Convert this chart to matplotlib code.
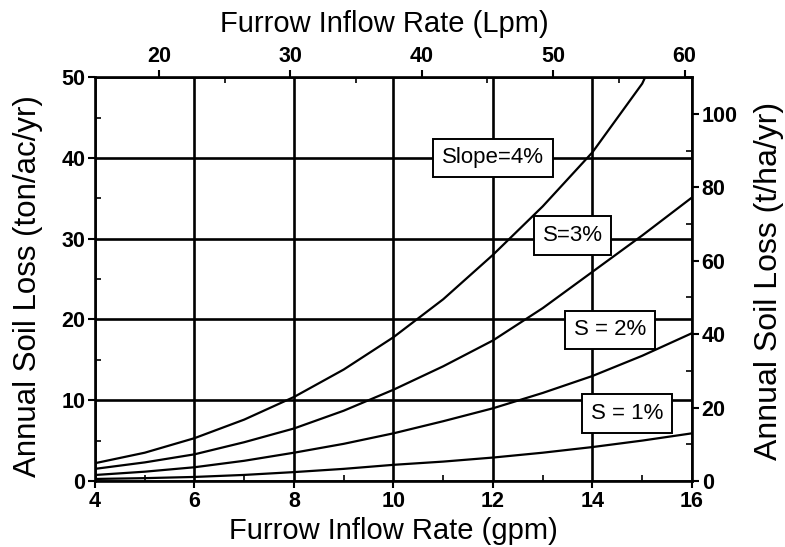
import matplotlib.pyplot as plt
from matplotlib.ticker import MultipleLocator

plt.rcParams["font.family"] = ["Liberation Sans", "DejaVu Sans"]

# Soil loss (ton/ac/yr) at each inflow rate (gpm)
flow_gpm = [4, 5, 6, 7, 8, 9, 10, 11, 12, 13, 14, 15, 15.06]
slope4 = [2.2, 3.5, 5.3, 7.6, 10.4, 13.8, 17.8, 22.5, 28.0, 34.0, 40.7, 49.2, 50.0]

flow_gpm_b = [4, 5, 6, 7, 8, 9, 10, 11, 12, 13, 14, 15, 16]
slope3 = [1.5, 2.3, 3.3, 4.8, 6.5, 8.7, 11.3, 14.2, 17.4, 21.4, 25.9, 30.4, 35.1]
slope2 = [0.74, 1.15, 1.7, 2.5, 3.5, 4.6, 5.9, 7.4, 9.0, 10.9, 13.0, 15.5, 18.3]
slope1 = [0.25, 0.35, 0.5, 0.75, 1.1, 1.5, 2.0, 2.4, 2.9, 3.5, 4.2, 5.0, 5.9]

labels = ["Slope=4%", "S=3%", "S = 2%", "S = 1%"]
label_x = [12.0, 13.6, 14.35, 14.7]
label_y = [40.0, 30.4, 18.7, 8.4]

GPM_TO_LPM = 3.785
TONAC_TO_THA = 2.2

fig = plt.figure(figsize=(7.85, 5.47), dpi=100)
ax = fig.add_axes([0.121, 0.1207, 0.7605, 0.7383])

for ys in [slope3, slope2, slope1]:
    ax.plot(flow_gpm_b, ys, color="black", lw=1.6)
ax.plot(flow_gpm, slope4, color="black", lw=1.6)

ax.set_xlim(4, 16)
ax.set_ylim(0, 50)
ax.xaxis.set_major_locator(MultipleLocator(2))
ax.xaxis.set_minor_locator(MultipleLocator(1))
ax.yaxis.set_major_locator(MultipleLocator(10))
ax.yaxis.set_minor_locator(MultipleLocator(5))
ax.grid(True, which="major", color="black", lw=1.9)
ax.tick_params(which="major", direction="out", length=5, width=1.5,
               labelsize=15.5, pad=2)
ax.tick_params(which="minor", direction="in", length=4, width=1.2)
for lbl in ax.get_xticklabels() + ax.get_yticklabels():
    lbl.set_fontweight("bold")
for s in ax.spines.values():
    s.set_linewidth(1.9)

ax.set_xlabel("Furrow Inflow Rate (gpm)", fontsize=21)
ax.set_ylabel("Annual Soil Loss (ton/ac/yr)", fontsize=22.5)
ax.xaxis.set_label_coords(0.5, -0.088)
ax.yaxis.set_label_coords(-0.087, 0.483)

for t, x, y in zip(labels, label_x, label_y):
    ax.text(x, y, t, ha="center", va="center", fontsize=16, zorder=5,
            bbox=dict(boxstyle="square,pad=0.4", fc="white", ec="black", lw=1.4))

top = ax.secondary_xaxis("top", functions=(lambda g: g * GPM_TO_LPM,
                                           lambda l: l / GPM_TO_LPM))
top.xaxis.set_major_locator(MultipleLocator(10))
top.xaxis.set_minor_locator(MultipleLocator(5))
top.tick_params(which="major", direction="out", length=5, width=1.5,
                labelsize=15.5, pad=2)
top.tick_params(which="minor", direction="in", length=4, width=1.2)
for lbl in top.get_xticklabels():
    lbl.set_fontweight("bold")

right = ax.secondary_yaxis("right", functions=(lambda v: v * TONAC_TO_THA,
                                               lambda v: v / TONAC_TO_THA))
right.yaxis.set_major_locator(MultipleLocator(20))
right.yaxis.set_minor_locator(MultipleLocator(10))
right.tick_params(which="major", direction="out", length=5, width=1.5,
                  labelsize=15.5, pad=2)
right.tick_params(which="minor", direction="in", length=4, width=1.2)
for lbl in right.get_yticklabels():
    lbl.set_fontweight("bold")

# outer axis titles placed in figure coordinates
fig.text(0.49, 0.956, "Furrow Inflow Rate (Lpm)", fontsize=21,
         ha="center", va="center")
fig.text(0.979, 0.486, "Annual Soil Loss (t/ha/yr)", fontsize=23,
         rotation=90, ha="center", va="center")

fig.savefig("out.png", dpi=100)
